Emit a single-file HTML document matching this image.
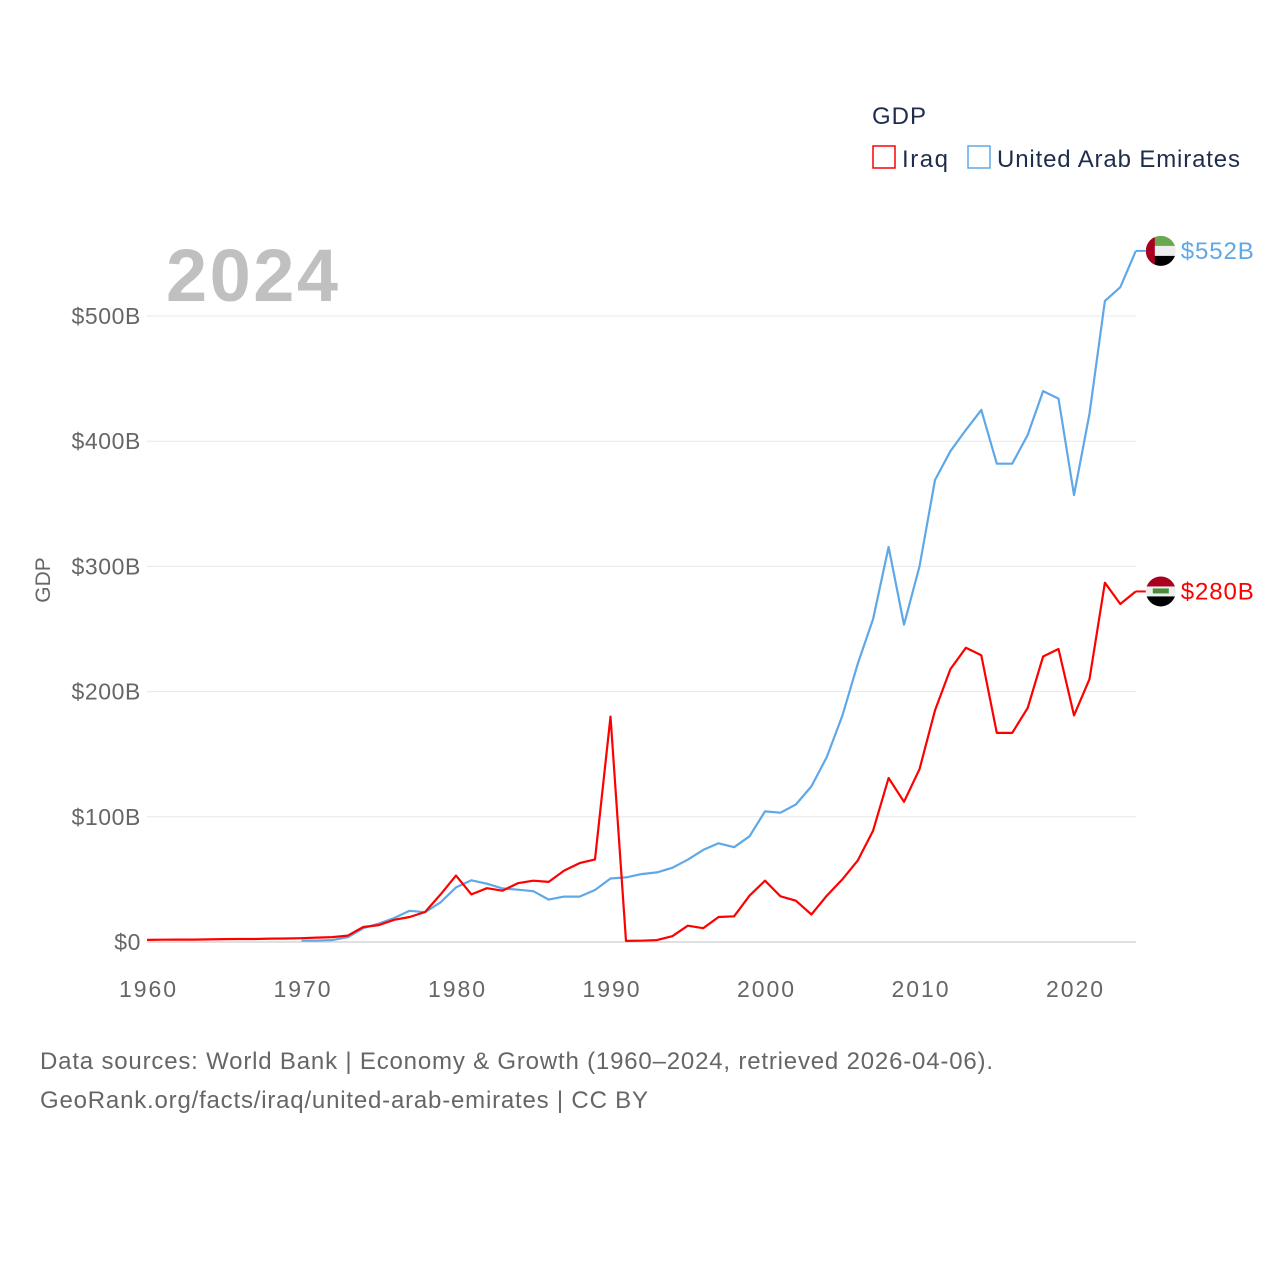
<!DOCTYPE html>
<html><head><meta charset="utf-8"><style>
body{margin:0;background:#fff;font-family:"Liberation Sans",sans-serif}
</style></head><body>
<svg width="1280" height="1280" xmlns="http://www.w3.org/2000/svg">
<text x="872" y="124" font-size="24" fill="#1f2d4d" textLength="54">GDP</text>
<g><rect x="873" y="146" width="22" height="22" fill="none" stroke="#ff0000" stroke-width="1.5"/><text x="902" y="167" font-size="24" fill="#1f2d4d" textLength="46">Iraq</text></g>
<g><rect x="968" y="146" width="22" height="22" fill="none" stroke="#5fa8e8" stroke-width="1.5"/><text x="997" y="167" font-size="24" fill="#1f2d4d" textLength="243">United Arab Emirates</text></g>
<text x="166" y="301" font-size="74" font-weight="bold" fill="#c0c0c0" textLength="172">2024</text>
<text transform="translate(50,580) rotate(-90)" text-anchor="middle" font-size="21" fill="#666">GDP</text>
<g id="grid"></g><g id="ticks"></g><g id="lines"></g><g id="ends"></g>
<text x="40" y="1069" font-size="24" fill="#666" textLength="953">Data sources: World Bank | Economy &amp; Growth (1960–2024, retrieved 2026-04-06).</text>
<text x="40" y="1108" font-size="24" fill="#666" textLength="608">GeoRank.org/facts/iraq/united-arab-emirates | CC BY</text>
</svg>
<script>
const iraqStart=1960;
const iraqValues=[1.7,1.8,1.9,1.9,2.1,2.3,2.4,2.4,2.7,2.8,3.0,3.5,3.9,5.1,12,13.5,17.7,20,24,38,53,38,43,41,47,49,48,57,63,66,180,0.9,1,1.5,4.6,13,11,20,20.5,37,49,36.5,33,22,37,50,65,89,131,112,138,185,218,235,229,167,167,187,228,234,181,210,287,270,280];
const uaeStart=1970;
const uaeValues=[1.0,1.1,1.5,3.8,11,14.7,19.2,24.9,23.8,31.7,43.6,49.3,46.6,42.8,41.8,40.6,33.9,36.3,36.3,41.5,50.7,51.6,54.2,55.6,59.3,65.7,73.6,78.8,75.7,84.4,104.3,103.3,109.8,124.3,147.8,180.6,222.1,258,315.5,253.5,300,369,392,409,425,382,382,405,440,434,357,422,512,523,552];
const yTicks=[0,100,200,300,400,500];
const yTickLabels=["$0","$100B","$200B","$300B","$400B","$500B"];
const xTicks=[1960,1970,1980,1990,2000,2010,2020];
const NS="http://www.w3.org/2000/svg";
const X=y=>147+(y-1960)*(1074-147)/60;
const Y=v=>942-v*1.252;
function mk(t,a,p){const e=document.createElementNS(NS,t);for(const k in a)e.setAttribute(k,a[k]);document.getElementById(p).appendChild(e);return e;}
yTicks.forEach((t,i)=>{
 const l=mk('line',{x1:147,x2:1136,y1:Y(t),y2:Y(t),stroke:t===0?'#e0e0e0':'#e8e8e8','stroke-width':t===0?2:1},'grid');
 
 
 const tx=mk('text',{x:141,y:Y(t)+8,'text-anchor':'end','font-size':23,'letter-spacing':0.6,fill:'#666'},'ticks');tx.textContent=yTickLabels[i];
 
 
});
xTicks.forEach(t=>{
 const tx=mk('text',{x:X(t)-28,y:997,'font-size':23,textLength:57,fill:'#666'},'ticks');tx.textContent=t;
 
 
});
function line(vals,start,color,name){
 const d=vals.map((v,i)=>(i?'L':'M')+X(start+i).toFixed(1)+' '+Y(v).toFixed(1)).join(' ');
 const p=mk('path',{d:d,fill:'none',stroke:color,'stroke-width':2.2,'stroke-linejoin':'round'},'lines');
 
 
}
line(uaeValues,uaeStart,'#5fa8e8','uae-line');
line(iraqValues,iraqStart,'#ff0000','iraq-line');
function endLabel(vals,color,name,flag){
 const v=vals[vals.length-1],x=X(2024),y=Y(v);
 mk('line',{x1:x,x2:x+10,y1:y,y2:y,stroke:color,'stroke-width':2},'ends');
 const cx=x+25;
 const g=mk('g',{},'ends');
 
 
 const r=15;
 const clip=mk('clipPath',{id:'c'+name},'ends');const c=document.createElementNS(NS,'circle');c.setAttribute('cx',cx);c.setAttribute('cy',y);c.setAttribute('r',r);clip.appendChild(c);
 const cols=flag==='uae'?['#6aa84f','#eeeeee','#000']:['#a8001e','#eeeeee','#000'];
 cols.forEach((cl,i)=>{const rr=document.createElementNS(NS,'rect');rr.setAttribute('x',cx-r);rr.setAttribute('y',y-r+i*2*r/3);rr.setAttribute('width',2*r);rr.setAttribute('height',2*r/3+0.5);rr.setAttribute('fill',cl);rr.setAttribute('clip-path','url(#c'+name+')');g.appendChild(rr);});
 if(flag==='uae'){const rr=document.createElementNS(NS,'rect');rr.setAttribute('x',cx-r);rr.setAttribute('y',y-r);rr.setAttribute('width',r*0.6);rr.setAttribute('height',2*r);rr.setAttribute('fill','#a8001e');rr.setAttribute('clip-path','url(#c'+name+')');g.appendChild(rr);}
 else{const t=document.createElementNS(NS,'rect');t.setAttribute('x',cx-8);t.setAttribute('y',y-3);t.setAttribute('width',16);t.setAttribute('height',5);t.setAttribute('fill','#4a8c3a');g.appendChild(t);}
 const tx=mk('text',{x:cx+20,y:y+8,'font-size':24,textLength:73,fill:color},'ends');tx.textContent='$'+Math.round(v)+'B';
 
 
}
endLabel(uaeValues,'#5fa8e8','uae','uae');
endLabel(iraqValues,'#ff0000','iraq','iraq');
</script>
</body></html>
